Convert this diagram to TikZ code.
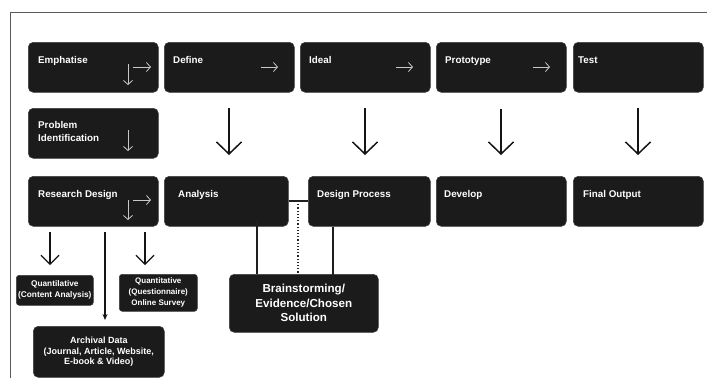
\documentclass[tikz,border=0pt]{standalone}
\usepackage{fontspec}
\setmainfont{Liberation Sans}
\usetikzlibrary{arrows.meta}
\definecolor{boxfill}{HTML}{1C1B1B}
\definecolor{boxline}{HTML}{3C3C3C}
\definecolor{framec}{HTML}{5A5A5A}
\definecolor{innerarrow}{HTML}{C8C8C8}
\tikzset{
  box/.style={draw=boxline, fill=boxfill, line width=0.6pt, rounded corners=5pt,
    anchor=north west, inner sep=0pt},
  bigbox/.style={box, minimum width=130pt, minimum height=50pt},
  title/.style={anchor=base west, inner sep=0pt, text=white,
    font=\fontsize{9.8}{12.5}\selectfont\bfseries, align=left},
  smalltxt/.style={text=white, inner sep=0pt, align=center},
  bigarrow/.style={draw=black!92, line width=1.5pt,
    -{Straight Barb[length=12pt,width=25pt,line width=1.5pt]}},
  midarrow/.style={draw=black!92, line width=1.1pt,
    -{Straight Barb[length=9pt,width=18pt,line width=1.1pt]}},
  inarrow/.style={draw=innerarrow, line width=0.8pt,
    -{Straight Barb[length=4pt,width=9pt,line width=0.8pt]}},
  conn/.style={draw=black!88, line width=1.3pt},
}
\begin{document}
\begin{tikzpicture}[x=1pt,y=-1pt]
\useasboundingbox (0,0) rectangle (707,378);
% frame
\draw[framec, line width=0.8pt] (707,12) -- (10,12) -- (10,378);

% row 1
\node[bigbox] (emp) at (28,42) {};
\node[bigbox] (def) at (164,42) {};
\node[bigbox] (ide) at (300,42) {};
\node[bigbox] (pro) at (436,42) {};
\node[bigbox] (tes) at (573,42) {};
% row 2
\node[bigbox] (pid) at (28,108) {};
% row 3
\node[bigbox] (rd) at (28,176) {};
\node[box, minimum width=124pt, minimum height=50pt] (an) at (164,176) {};
\node[box, minimum width=122pt, minimum height=50pt] (dp) at (308,176) {};
\node[bigbox] (dev) at (436,176) {};
\node[bigbox] (fo) at (573,176) {};
% lower boxes
\node[box, minimum width=149pt, minimum height=58pt] (bs) at (229,274) {};
\node[box, minimum width=77pt, minimum height=30pt, rounded corners=3pt] (ql) at (16,275) {};
\node[box, minimum width=78pt, minimum height=37pt, rounded corners=3pt] (qt) at (119,274) {};
\node[box, minimum width=131pt, minimum height=51pt] (ar) at (33,326) {};

% titles
\node[title] (t1) at (38,63) {Emphatise};
\node[title] (t2) at (173,63) {Define};
\node[title] (t3) at (309,63) {Ideal};
\node[title] (t4) at (445,63) {Prototype};
\node[title] (t5) at (578,63) {Test};
\node[title] (t6) at (38,141) {Problem\\Identification};
\node[title] (t7) at (38,197) {Research Design};
\node[title] (t8) at (178,197) {Analysis};
\node[title] (t9) at (317,197) {Design Process};
\node[title] (t10) at (444,197) {Develop};
\node[title] (t11) at (583,197) {Final Output};

\node[smalltxt, font=\fontsize{11.6}{14.5}\selectfont\bfseries] (tbs) at (bs.center) {Brainstorming/\\Evidence/Chosen\\Solution};
\node[smalltxt, font=\fontsize{8.3}{11}\selectfont\bfseries] (tql) at (ql.center) {Quantilative\\(Content Analysis)};
\node[smalltxt, font=\fontsize{8}{11}\selectfont\bfseries] (tqt) at (qt.center) {Quantitative\\(Questionnaire)\\Online Survey};
\node[smalltxt, font=\fontsize{9}{10.5}\selectfont\bfseries] (tar) at (ar.center) {Archival Data\\(Journal, Article, Website,\\E-book \& Video)};

% arrows inside boxes
\draw[inarrow] (128,64) -- (128,85);
\draw[inarrow] (133,67) -- (151,67);
\draw[inarrow] (261,67) -- (278,67);
\draw[inarrow] (396,67) -- (413,67);
\draw[inarrow] (533,67) -- (550,67);
\draw[inarrow] (128,130) -- (128,151);
\draw[inarrow] (128,200) -- (128,220);
\draw[inarrow] (133,200) -- (151,200);

% big arrows between rows
\draw[bigarrow] (229,108) -- (229,155);
\draw[bigarrow] (365,108) -- (365,155);
\draw[bigarrow] (501,109) -- (501,155);
\draw[bigarrow] (638,108) -- (638,155);

% research design arrows
\draw[midarrow] (50,232) -- (50,265);
\draw[midarrow] (145,232) -- (145,265);
\draw[draw=black!92, line width=1.1pt, -{Stealth[length=6pt,width=5pt]}] (105,232) -- (105,320);

% connections analysis / design process / brainstorming
\draw[conn] (an.east |- 0,201) -- (dp.west |- 0,201);
\draw[black!85, line width=1.2pt, dotted] (298,201) -- (bs.north -| 298,0);
\draw[conn] (257,220) -- (bs.north -| 257,0);
\draw[conn] (dp.south -| 333,0) -- (333,280);
\end{tikzpicture}
\end{document}
